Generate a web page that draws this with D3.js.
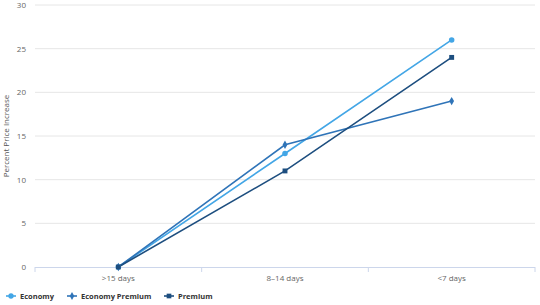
<!DOCTYPE html>
<html><head><meta charset="utf-8">
<script src="https://cdn.jsdelivr.net/npm/d3@7"></script>
<style>body{margin:0;background:#fff;}svg{display:block;font-family:"Open Sans",sans-serif;}</style>
</head><body><svg id="c" width="540" height="305"></svg>
<script>
const categories = [">15 days", "8–14 days", "<7 days"];
const seriesNames = ["Economy", "Economy Premium", "Premium"];
const economy = [0, 13, 26];
const economyPremium = [0, 14, 19];
const premium = [0, 11, 24];
const yTicks = [0, 5, 10, 15, 20, 25, 30];
const colors = ["#43a6e6", "#2f74b8", "#1d4e7f"];
const symbols = [d3.symbolCircle, d3.symbolDiamond, d3.symbolSquare];

const svg = d3.select("#c");
const m = {l: 35, r: 5, t: 5, b: 38};
const W = 540, H = 305;
const x = d3.scaleBand().domain(categories).range([m.l, W - m.r]);
const y = d3.scaleLinear().domain([0, 30]).range([H - m.b, m.t]);

// grid
svg.append("g").selectAll("line").data(yTicks.filter(d => d > 0)).join("line")
  .attr("x1", m.l).attr("x2", W - m.r).attr("y1", d => y(d)).attr("y2", d => y(d))
  .attr("stroke", "#e6e6e6").attr("stroke-width", 1);

// y labels
svg.append("g").selectAll("text").data(yTicks).join("text")
  .attr("x", 26).attr("y", d => y(d) + 3).attr("text-anchor", "end")
  .attr("font-size", 8).attr("fill", "#666").text(d => d);

// y title
svg.append("text").attr("transform", `translate(9,${(y(0)+y(30))/2}) rotate(-90)`)
  .attr("text-anchor", "middle").attr("font-size", 8).attr("fill", "#555")
  .text("Percent Price Increase");

// x axis line
svg.append("line").attr("x1", m.l).attr("x2", W - m.r).attr("y1", y(0) + 0.5).attr("y2", y(0) + 0.5)
  .attr("stroke", "#ccd6eb").attr("stroke-width", 1);
const bounds = categories.map(c => x(c)).concat([x(categories[categories.length-1]) + x.bandwidth()]);
svg.append("g").selectAll("line").data(bounds).join("line")
  .attr("x1", d => d).attr("x2", d => d).attr("y1", y(0)).attr("y2", y(0) + 5)
  .attr("stroke", "#ccd6eb");
svg.append("g").selectAll("text").data(categories).join("text")
  .attr("x", d => x(d) + x.bandwidth() / 2).attr("y", y(0) + 14)
  .attr("text-anchor", "middle").attr("font-size", 8).attr("fill", "#666").text(d => d);

const data = [economy, economyPremium, premium];
const line = d3.line().x((d, i) => x(categories[i]) + x.bandwidth() / 2).y(d => y(d));
data.forEach((s, k) => {
  svg.append("path").datum(s).attr("d", line).attr("fill", "none")
    .attr("stroke", colors[k]).attr("stroke-width", 1.6);
});
data.forEach((s, k) => {
  svg.append("g").selectAll("path").data(s).join("path")
    .attr("transform", (d, i) => `translate(${x(categories[i]) + x.bandwidth() / 2},${y(d)})`)
    .attr("d", d3.symbol().type(symbols[k]).size(k === 1 ? 20 : 24))
    .attr("fill", colors[k]);
});

// legend
const legX = [6, 67, 164];
const lg = svg.append("g").selectAll("g").data(seriesNames).join("g")
  .attr("transform", (d, i) => `translate(${legX[i]},296)`);
lg.append("line").attr("x1", 0).attr("x2", 10).attr("stroke", (d, i) => colors[i]).attr("stroke-width", 1.6);
lg.append("path").attr("transform", "translate(5,0)")
  .attr("d", (d, i) => d3.symbol().type(symbols[i]).size(i === 1 ? 18 : 22)())
  .attr("fill", (d, i) => colors[i]);
lg.append("text").attr("x", 14).attr("y", 3).attr("font-size", 7.5).attr("font-weight", "bold")
  .attr("fill", "#333").text(d => d);
</script></body></html>
